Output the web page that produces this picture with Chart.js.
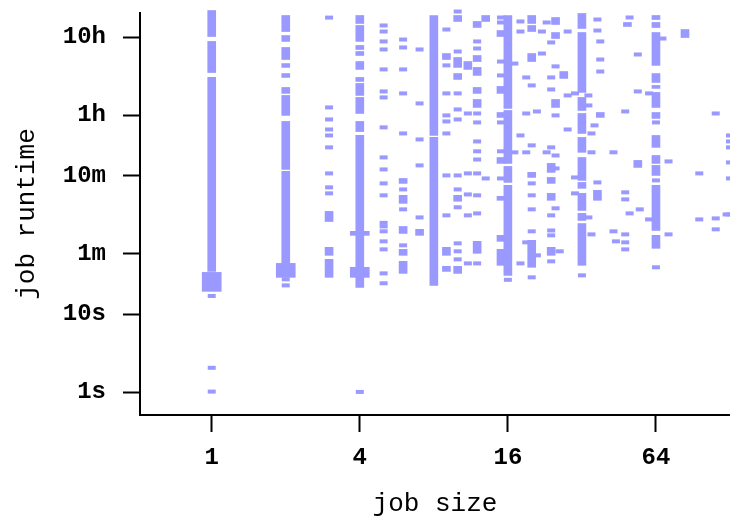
<!DOCTYPE html>
<html>
<head>
<meta charset="utf-8">
<script src="https://cdn.jsdelivr.net/npm/chart.js@4/dist/chart.umd.min.js"></script>
<style>
  html, body { margin: 0; padding: 0; background: #fff; }
  #wrap { width: 730px; height: 517px; }
</style>
</head>
<body>
<div id="wrap"><canvas id="c" width="730" height="517"></canvas></div>
<script>
// ---- axis ticks ----
const sizeTicks = [1, 4, 16, 64];
const sizeTickLabels = ['1', '4', '16', '64'];
const runtimeTicks = [1, 10, 60, 600, 3600, 36000];            // seconds
const runtimeTickLabels = ['1s', '10s', '1m', '10m', '1h', '10h'];

// ---- dense runs of jobs (solid columns): job size, longest and shortest runtime (s) ----
const runSize = [
  1, 1, 1,
  2, 2, 2, 2, 2, 2, 2, 2, 2,
  3, 3, 3,
  4, 4, 4, 4, 4, 4, 4, 4, 4, 4,
  6, 6, 6, 6, 6,
  7,
  8, 8,
  9, 9, 9,
  10, 10, 10, 10, 10,
  11,
  12, 12, 12, 12, 12, 12,
  13,
  15, 15, 15, 15, 15, 15, 15,
  16, 16, 16, 16,
  20, 20, 20, 20, 20,
  24, 24, 24, 24,
  25, 25, 25,
  27,
  32, 32, 32, 32, 32, 32, 32, 32, 32, 32,
  37, 38, 49, 54,
  64, 64, 64, 64, 64, 64, 64, 64, 64, 64, 64, 64,
  84
];
const runLongest = [
  78900, 31650, 10930,
  68100, 37700, 26480, 16470, 12260, 8130, 6420, 2980, 682,
  209, 72.3, 50.7,
  68100, 50700, 28100, 23500, 17480, 10930, 9150, 6050, 2980, 1970,
  553, 336, 134, 68.1, 47.8,
  123,
  68100, 1857,
  22140, 72.3, 41.3,
  68100, 19700, 12260, 336, 41.3,
  17480,
  57090, 20900, 14700, 8130, 5700, 86.3,
  68100,
  43700, 8380, 3880, 1027, 326, 103, 68.1,
  68100, 4120, 789, 451,
  68100, 50700, 22140, 662, 88.9,
  862, 570, 356, 72.3,
  64190, 41190, 5700,
  13010,
  72300, 41190, 6050, 3770, 1857, 1027, 492, 356, 197, 146,
  389, 3880, 55420, 942,
  68100, 55420, 41190, 12260, 8630, 7020, 3880, 1970, 1090, 813, 451, 103,
  45010
];
const runShortest = [
  36600, 12630, 35.5,
  42400, 31650, 18560, 14700, 10930, 6820, 3560, 722, 45,
  155, 57.1, 29.8,
  53800, 31650, 24960, 20900, 13850, 9710, 6420, 3770, 2210, 22.1,
  478, 265, 109, 57.1, 33.5,
  103,
  1970, 23.5,
  18560, 57.1, 35.5,
  57090, 14700, 10300, 282, 33.5,
  13850,
  47790, 17480, 11600, 6820, 4505, 60.6,
  57090,
  36600, 6820, 3355, 862, 290, 86.3, 42.5,
  4373, 862, 492, 31.6,
  53800, 42430, 17480, 570, 40.1,
  662, 478, 290, 57.1,
  52220, 34490, 4505,
  10610,
  46390, 7020, 4120, 2090, 1197, 522, 413, 215, 160, 42.5,
  290, 3355, 49220, 766,
  60480, 47790, 15600, 9425, 7900, 4505, 3257, 1385, 862, 605, 119, 70.2,
  35530
];

// ---- wide clusters of short jobs ----
const clusterSize = [1, 2, 4, 4];
const clusterLongest = [34.5, 45, 116, 40.1];
const clusterShortest = [19.7, 29.8, 103, 29.8];

// ---- individual jobs: job size and runtime (s) ----
const jobSize = [
  1, 1, 1,
  2, 2,
  3, 3, 3, 3, 3, 3, 3, 3, 3,
  4,
  5, 5, 5, 5, 5, 5, 5, 5, 5, 5, 5, 5, 5, 5, 5, 5, 5, 5, 5,
  6, 6, 6, 6, 6, 6, 6, 6,
  7, 7, 7, 7, 7,
  9, 9, 9, 9, 9, 9, 9, 9,
  10, 10, 10, 10, 10, 10, 10, 10, 10, 10, 10,
  11, 11, 11, 11, 11,
  12, 12, 12, 12, 12, 12, 12, 12, 12, 12, 12,
  13,
  15, 15, 15, 15, 15, 15, 15,
  16,
  17, 17,
  18, 18, 18, 18,
  19, 19, 19, 19,
  20, 20, 20, 20, 20, 20, 20,
  21, 21,
  22, 22,
  23, 23,
  24, 24, 24, 24, 24, 24, 24, 24,
  25, 25, 25, 25, 25,
  26,
  28, 28, 28,
  30, 30, 30,
  32,
  34, 34, 34,
  35, 35, 35,
  36,
  37, 37, 37,
  38, 38, 38,
  43, 43, 44,
  48, 48, 48, 48, 48, 48,
  50, 50,
  54, 54,
  55,
  60, 60,
  64, 64, 64,
  68,
  72, 72,
  96, 96,
  112, 112, 112,
  124,
  128, 128, 128, 128, 128, 128
];
const jobRuntime = [
  17.2, 2.06, 1.02,
  28.1, 23.5,
  64000, 4505, 3160, 2350, 1970, 1385, 642, 425, 356,
  1.01,
  50700, 42430, 31650, 24960, 13850, 7230, 6050, 2500, 1030, 722, 478, 336, 149, 134, 116, 86.3, 68.1, 33.5, 25.0,
  33480, 26480, 13850, 6820, 2090, 400, 222, 76.7,
  24960, 5070, 1750, 813, 175,
  45030, 15600, 6820, 3560, 2980, 2090, 605, 186,
  76600, 23500, 6820, 4245, 3160, 605, 400, 236, 81.3, 64.3, 50.7,
  3770, 642, 345, 186, 45.0,
  31650, 25710, 3770, 2894, 1650, 1233, 968, 642, 336, 197, 45.0,
  553,
  64190, 55420, 17480, 11600, 2894, 1233, 553,
  27.7,
  16470, 1197,
  57090, 42430, 1970, 45.0,
  10930, 3770, 1197, 83.8,
  8630, 1470, 478, 336, 222, 116, 29.8,
  4000, 57.1,
  42430, 22140,
  55420, 1197,
  30730, 10930, 7665, 1385, 186, 119, 103, 47.8,
  15150, 3560, 1090, 744, 229,
  64.3,
  42430, 6420, 2350,
  6820, 570, 356,
  31.6,
  6420, 4780, 175,
  2090, 1197, 106,
  2650,
  60480, 43700, 492,
  31650, 18560, 13010,
  1197, 116, 86.3,
  4000, 367, 298, 106, 83.8, 68.1,
  64190, 197,
  21530, 7230,
  222,
  6820, 165,
  2894, 522, 40.1,
  34490,
  915, 106,
  642, 165,
  3770, 170, 123,
  191,
  1970, 1650, 1385, 888, 553, 191
];

const MARK = '#9999ff';

const runs = runSize.map((s, i) => ({ x: s, y: [runShortest[i], runLongest[i]] }));
const clusters = clusterSize.map((s, i) => ({ x: s, y: [clusterShortest[i], clusterLongest[i]] }));
const jobs = jobSize.map((s, i) => ({ x: s, y: jobRuntime[i] }));

const tickFont = { family: "'Liberation Mono', 'DejaVu Sans Mono', monospace", size: 24, weight: 'bold' };
const titleFont = { family: "'Liberation Mono', 'DejaVu Sans Mono', monospace", size: 26, weight: 'normal', lineHeight: 1.0 };

new Chart(document.getElementById('c'), {
  type: 'scatter',
  data: {
    datasets: [
      {
        type: 'bar', label: 'runs', data: runs,
        backgroundColor: MARK, borderWidth: 0, barThickness: 8,
        grouped: false, clip: false
      },
      {
        type: 'bar', label: 'clusters', data: clusters,
        backgroundColor: MARK, borderWidth: 0, barThickness: 19,
        grouped: false, clip: false
      },
      {
        type: 'scatter', label: 'jobs', data: jobs,
        pointStyle: 'line', pointRadius: 4, pointHoverRadius: 4,
        pointBorderWidth: 4, pointHoverBorderWidth: 4,
        borderColor: MARK, backgroundColor: MARK, clip: false
      }
    ]
  },
  options: {
    responsive: false,
    animation: false,
    events: [],
    layout: { autoPadding: false, padding: { top: 13, right: 0, left: 0, bottom: 0 } },
    plugins: { legend: { display: false }, tooltip: { enabled: false } },
    scales: {
      x: {
        type: 'logarithmic', position: 'bottom',
        min: 0.511, max: 128, offset: false,
        afterBuildTicks: (s) => { s.ticks = sizeTicks.map(v => ({ value: v })); },
        afterFit: (s) => { s.height = 102; s.paddingLeft = 0; s.paddingRight = 0; s.paddingTop = 0; s.paddingBottom = 0; },
        ticks: {
          autoSkip: false, maxRotation: 0, padding: 12, color: '#000', font: tickFont,
          callback: (v) => { const i = sizeTicks.indexOf(v); return i >= 0 ? sizeTickLabels[i] : ''; }
        },
        grid: { offset: false, drawOnChartArea: false, drawTicks: true, tickLength: 17, tickWidth: 2, tickColor: '#000' },
        border: { display: true, color: '#000', width: 2 },
        title: { display: true, text: 'job size', color: '#000', font: titleFont, padding: { top: 0, bottom: 0 } }
      },
      y: {
        type: 'logarithmic', position: 'left',
        min: 0.511, max: 73300, offset: false,
        afterBuildTicks: (s) => { s.ticks = runtimeTicks.map(v => ({ value: v })); },
        afterFit: (s) => { s.width = 140; s.paddingLeft = 0; s.paddingRight = 0; s.paddingTop = 0; s.paddingBottom = 0; },
        ticks: {
          autoSkip: false, padding: 17, color: '#000', font: tickFont,
          callback: (v) => { const i = runtimeTicks.indexOf(v); return i >= 0 ? runtimeTickLabels[i] : ''; }
        },
        grid: { offset: false, drawOnChartArea: false, drawTicks: true, tickLength: 17, tickWidth: 2, tickColor: '#000' },
        border: { display: true, color: '#000', width: 2 },
        title: { display: true, text: 'job runtime', color: '#000', font: titleFont, padding: { top: 14, bottom: 0 } }
      }
    }
  }
});
</script>
</body>
</html>
